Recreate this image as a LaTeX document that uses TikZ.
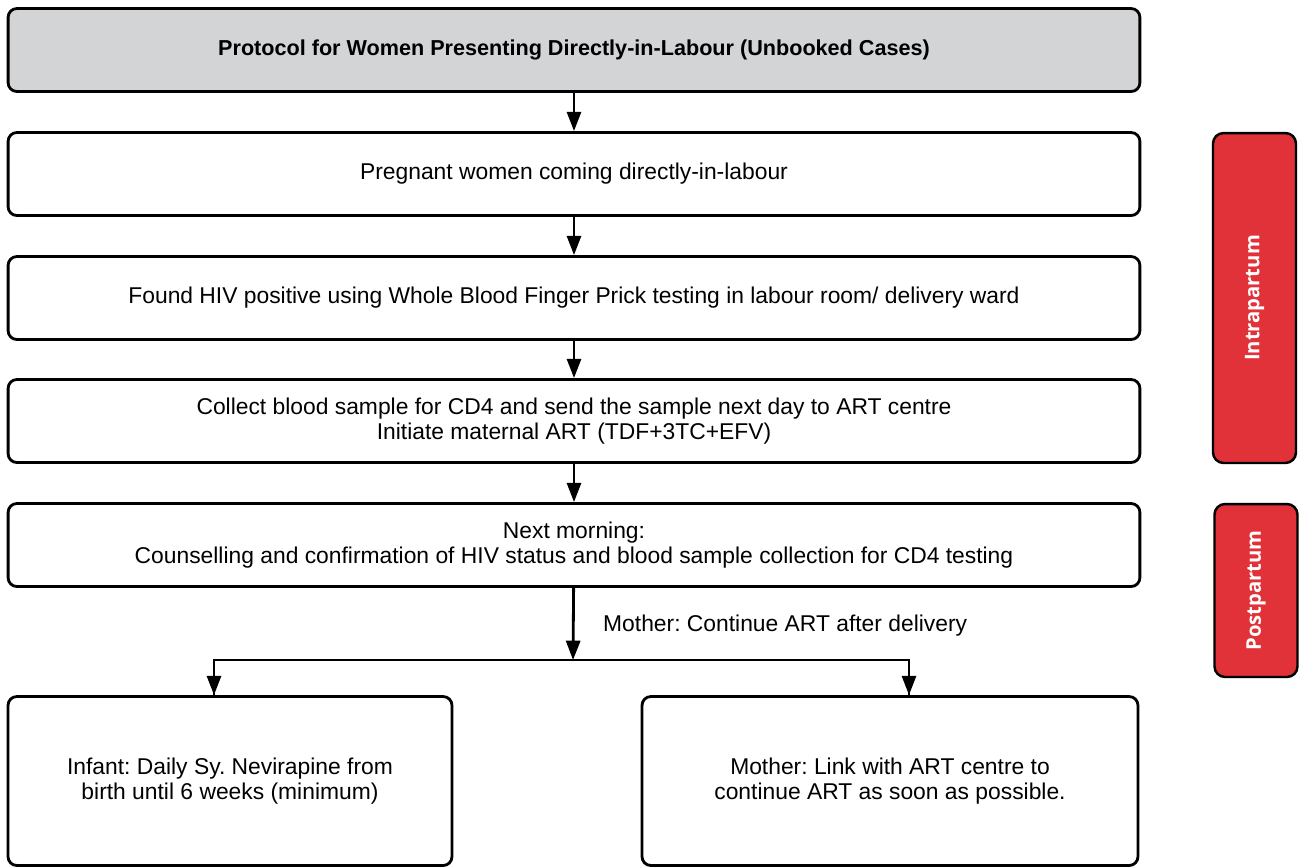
\documentclass[tikz,border=0pt]{standalone}
\usepackage{fontspec}
\setmainfont{Liberation Sans}
\newfontfamily\sidefont{Open Sans}
\usetikzlibrary{arrows.meta}
\definecolor{boxgray}{RGB}{211,212,214}
\definecolor{phasered}{RGB}{224,50,56}
\frenchspacing

\begin{document}
\begin{tikzpicture}[x=0.02cm,y=-0.02cm,
	stepbox/.style={draw=black,line width=1.6pt,rounded corners=5pt,fill=white,align=center,font=\fontsize{13}{14.7}\selectfont},
	wide/.style={stepbox,minimum width=22.64cm,minimum height=1.66cm},
	endbox/.style={stepbox,minimum height=3.38cm},
	phase/.style={draw=black,line width=1.4pt,rounded corners=6pt,fill=phasered,text=white,minimum width=1.66cm,font=\sidefont\bfseries\fontsize{11.5}{13}\selectfont},
	arr/.style={line width=1.6pt,-{Triangle[width=8pt,length=11pt]}}]
	\useasboundingbox (0,0) rectangle (1299,867);
	
	%boxes
	\node[wide,fill=boxgray,font=\bfseries\fontsize{12.3}{14}\selectfont] (title) at (574,50) {Protocol for Women Presenting Directly-in-Labour (Unbooked Cases)};
	\node[wide] (preg) at (574,174) {Pregnant women coming directly-in-labour};
	\node[wide] (found) at (574,298) {Found HIV positive using Whole Blood Finger Prick testing in labour room/ delivery ward};
	\node[wide] (collect) at (574,421) {Collect blood sample for CD4 and send the sample next day to ART centre\\Initiate maternal ART (TDF+3TC+EFV)};
	\node[wide] (morning) at (574,545) {Next morning:\\Counselling and confirmation of HIV status and blood sample collection for CD4 testing};
	%
	\node[endbox,minimum width=8.88cm] (infant) at (230,781) {Infant: Daily Sy. Nevirapine from\\birth until 6 weeks (minimum)};
	\node[endbox,minimum width=9.92cm] (link) at (890,781) {Mother: Link with ART centre to\\continue ART as soon as possible.};
	
	%arrows
	\draw[arr] (title) -- (preg);
	\draw[arr] (preg) -- (found);
	\draw[arr] (found) -- (collect);
	\draw[arr] (collect) -- (morning);
	\coordinate (split) at (573,660);
	\draw[arr] (morning) -- (split);
	\draw[line width=1.6pt] (split) -| ([xshift=-0.32cm]infant.north) (split) -| ([xshift=0.38cm]link.north);
	\draw[arr] ([xshift=-0.32cm,yshift=0.7cm]infant.north) -- ([xshift=-0.32cm]infant.north);
	\draw[arr] ([xshift=0.38cm,yshift=0.7cm]link.north) -- ([xshift=0.38cm]link.north);
	\node[anchor=west,font=\fontsize{13}{14.7}\selectfont] (cont) at (597,626) {Mother: Continue ART after delivery};
	
	%labels
	\node[phase,minimum height=6.6cm] (intra) at (1254.5,298) {\rotatebox{90}{Intrapartum}};
	\node[phase,minimum height=3.46cm] (post) at (1256,590.5) {\rotatebox{90}{Postpartum}};
	
	%\draw[help lines] (0,0) grid (1299,867);
\end{tikzpicture}
\end{document}
